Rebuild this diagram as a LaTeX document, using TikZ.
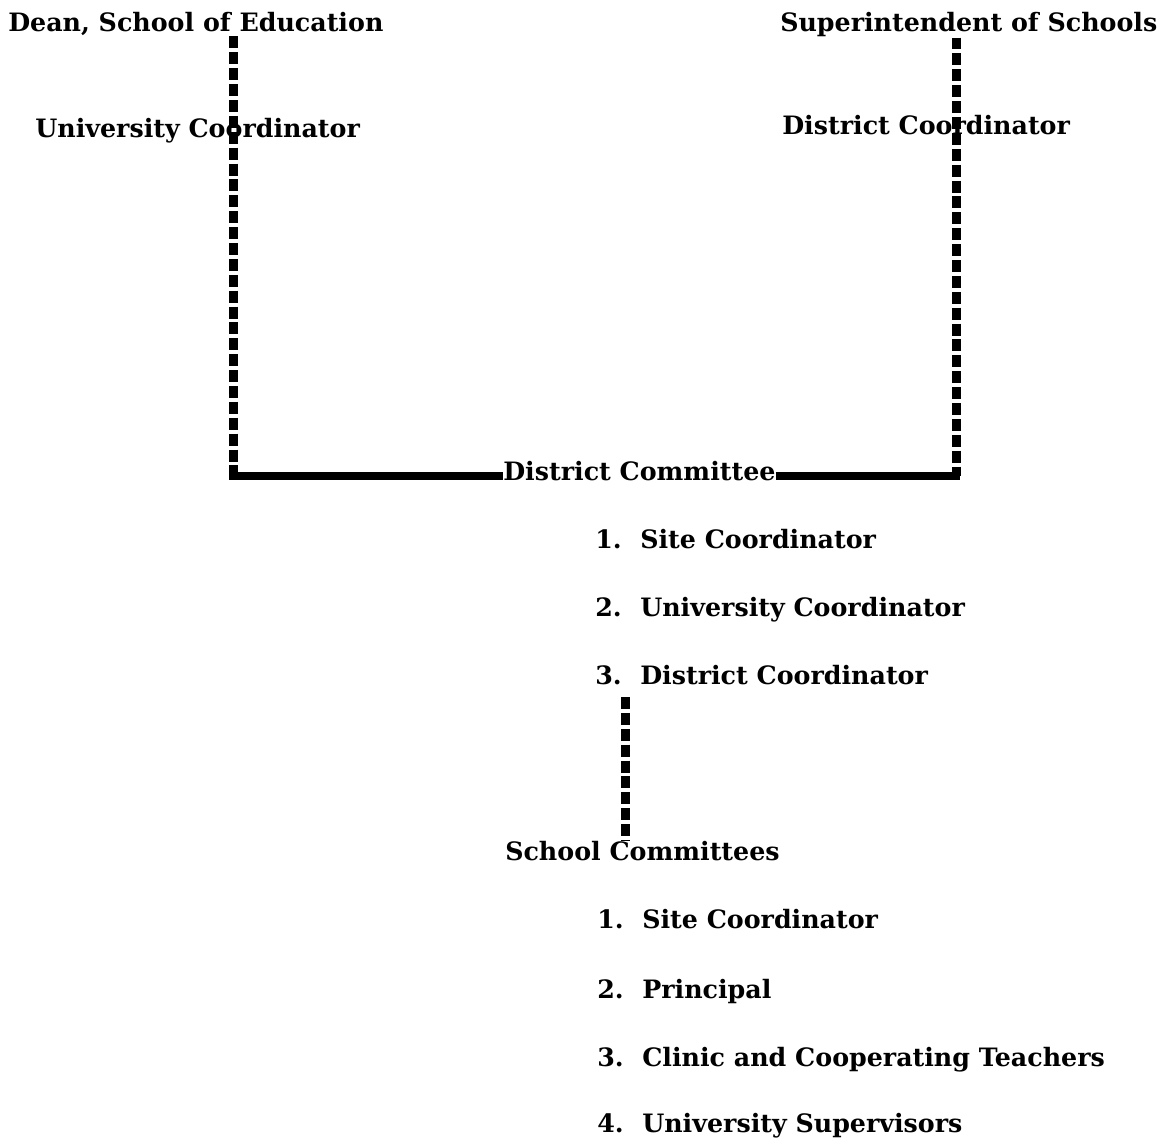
\documentclass[tikz,border=0pt]{standalone}
\usepackage{fontspec}
\setmainfont{DejaVu Serif}
\usepackage{tikz}
\usetikzlibrary{calc,positioning}
\newcommand{\orgitem}[2]{\makebox[32pt][l]{#1}#2}

\begin{document}
\begin{tikzpicture}[x=0.025cm, y=-0.025cm,
  orgtext/.style={inner sep=0pt, anchor=base west, font=\fontsize{18}{20}\selectfont\bfseries},
  dashlink/.style={line width=6.4pt, dash pattern=on 8.5pt off 2.8pt},
  solidlink/.style={line width=5.7pt}]
\useasboundingbox (0,0) rectangle (1168,1143);
\node[orgtext] (DEAN) at (8,32) {Dean, School of Education};
\node[orgtext] (UCOORD) at (35,138) {University Coordinator};
\node[orgtext] (SUPT) at (780,32) {Superintendent of Schools};
\node[orgtext] (DCOORD) at (782,135) {District Coordinator};
\node[orgtext] (DCOMM) at (503,480) {District Committee};
\node[orgtext] (DC1) at (595,548) {\orgitem{1.}{Site Coordinator}};
\node[orgtext] (DC2) at (595,616) {\orgitem{2.}{University Coordinator}};
\node[orgtext] (DC3) at (595,684) {\orgitem{3.}{District Coordinator}};
\node[orgtext] (SCOMM) at (505,860) {School Committees};
\node[orgtext] (SC1) at (597,928) {\orgitem{1.}{Site Coordinator}};
\node[orgtext] (SC2) at (597,998) {\orgitem{2.}{Principal}};
\node[orgtext] (SC3) at (597,1066) {\orgitem{3.}{Clinic and Cooperating Teachers}};
\node[orgtext] (SC4) at (597,1132) {\orgitem{4.}{University Supervisors}};
\coordinate (LCORNER) at (233,476);
\coordinate (RCORNER) at (956,476);
\coordinate (SDROP) at (625,697);
\draw[dashlink] (DEAN.south -| LCORNER) -- (LCORNER);
\draw[solidlink] ($(LCORNER)+(-4,0)$) -- (LCORNER -| DCOMM.west);
\draw[dashlink] (SUPT.south -| RCORNER) -- (RCORNER);
\draw[solidlink] (DCOMM.east |- RCORNER) -- ($(RCORNER)+(4,0)$);
\draw[dashlink] (SDROP) -- (SDROP |- SCOMM.north);
\end{tikzpicture}
\end{document}
